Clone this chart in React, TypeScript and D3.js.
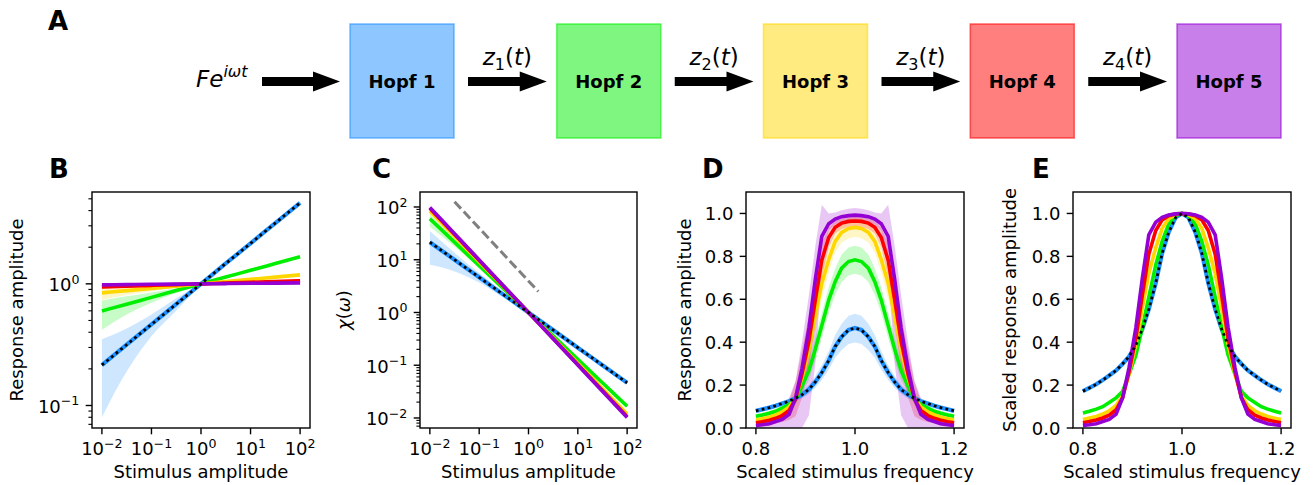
import React, { useEffect, useRef } from "react";
import * as d3 from "d3";

const W = 1315;
const H = 485;
const FONT = "DejaVu Sans, sans-serif";

// ---- panel A: chain of Hopf oscillators
const hopfNames = ["Hopf 1", "Hopf 2", "Hopf 3", "Hopf 4", "Hopf 5"];
const hopfColors = ["#1e90ff", "#00ee00", "#ffd700", "#ff0000", "#9400d3"];
const signalIdx = ["1", "2", "3", "4"];

// ---- panels B / C: response vs stimulus amplitude
const stim = [0.01, 0.0316, 0.1, 0.316, 1, 3.16, 10, 31.6, 100];
const ampBlue = [0.215, 0.316, 0.464, 0.681, 1, 1.47, 2.15, 3.16, 4.64];
const ampBlueLo = [0.08, 0.19, 0.37, 0.6, 0.985, 1.455, 2.13, 3.14, 4.61];
const ampBlueHi = [0.35, 0.43, 0.56, 0.76, 1.015, 1.485, 2.17, 3.18, 4.67];
const ampGreen = [0.599, 0.681, 0.774, 0.88, 1, 1.136, 1.292, 1.468, 1.668];
const ampGreenLo = [0.42, 0.56, 0.7, 0.84, 0.99, 1.128, 1.284, 1.46, 1.66];
const ampGreenHi = [0.73, 0.79, 0.85, 0.92, 1.01, 1.144, 1.3, 1.476, 1.676];
const ampYellow = [0.843, 0.88, 0.918, 0.958, 1, 1.044, 1.089, 1.136, 1.186];
const ampYellowLo = [0.74, 0.81, 0.87, 0.935, 0.995, 1.04, 1.085, 1.132, 1.182];
const ampYellowHi = [0.92, 0.94, 0.96, 0.98, 1.005, 1.048, 1.093, 1.14, 1.19];
const ampRed = [0.945, 0.958, 0.972, 0.986, 1, 1.014, 1.029, 1.044, 1.058];
const ampRedLo = [0.91, 0.93, 0.955, 0.978, 0.997, 1.011, 1.026, 1.041, 1.055];
const ampRedHi = [0.98, 0.985, 0.99, 0.994, 1.003, 1.017, 1.032, 1.047, 1.061];
const ampPurple = [0.981, 0.986, 0.991, 0.995, 1, 1.005, 1.01, 1.014, 1.019];
const ampPurpleLo = [0.965, 0.975, 0.984, 0.991, 0.998, 1.003, 1.008, 1.012, 1.017];
const ampPurpleHi = [0.997, 0.997, 0.998, 0.999, 1.002, 1.007, 1.012, 1.016, 1.021];
// grey guide line in C
const guideStim = [0.0316, 1.58];
const guideChi = [126, 2.5];

// ---- panels D / E: response vs scaled frequency
const freq = [0.8, 0.813, 0.827, 0.84, 0.853, 0.867, 0.88, 0.893, 0.907, 0.92, 0.933, 0.947, 0.96, 0.973, 0.987, 1.0,
  1.013, 1.027, 1.04, 1.053, 1.067, 1.08, 1.093, 1.107, 1.12, 1.133, 1.147, 1.16, 1.173, 1.187, 1.2];
const respBlue = [0.08, 0.087, 0.095, 0.104, 0.114, 0.125, 0.139, 0.155, 0.18, 0.215, 0.258, 0.315, 0.38, 0.425, 0.457, 0.466,
  0.457, 0.425, 0.38, 0.315, 0.258, 0.215, 0.18, 0.155, 0.139, 0.125, 0.114, 0.104, 0.095, 0.087, 0.08];
const respBlueLo = [0.072, 0.079, 0.086, 0.094, 0.103, 0.113, 0.125, 0.138, 0.159, 0.188, 0.224, 0.272, 0.327, 0.364, 0.391, 0.399,
  0.391, 0.364, 0.327, 0.272, 0.224, 0.188, 0.159, 0.138, 0.125, 0.113, 0.103, 0.094, 0.086, 0.079, 0.072];
const respBlueHi = [0.088, 0.095, 0.104, 0.114, 0.125, 0.137, 0.153, 0.172, 0.201, 0.242, 0.292, 0.358, 0.433, 0.486, 0.523, 0.533,
  0.523, 0.486, 0.433, 0.358, 0.292, 0.242, 0.201, 0.172, 0.153, 0.137, 0.125, 0.114, 0.104, 0.095, 0.088];
const respGreen = [0.055, 0.061, 0.069, 0.078, 0.093, 0.11, 0.133, 0.196, 0.267, 0.368, 0.478, 0.596, 0.682, 0.745, 0.776, 0.784,
  0.776, 0.745, 0.682, 0.596, 0.478, 0.368, 0.267, 0.196, 0.133, 0.11, 0.093, 0.078, 0.069, 0.061, 0.055];
const respGreenLo = [0.045, 0.051, 0.058, 0.066, 0.079, 0.094, 0.113, 0.166, 0.222, 0.313, 0.42, 0.536, 0.62, 0.681, 0.711, 0.719,
  0.711, 0.681, 0.62, 0.536, 0.42, 0.313, 0.222, 0.166, 0.113, 0.094, 0.079, 0.066, 0.058, 0.051, 0.045];
const respGreenHi = [0.065, 0.071, 0.08, 0.09, 0.107, 0.126, 0.153, 0.226, 0.312, 0.423, 0.536, 0.656, 0.744, 0.809, 0.841, 0.849,
  0.841, 0.809, 0.744, 0.656, 0.536, 0.423, 0.312, 0.226, 0.153, 0.126, 0.107, 0.09, 0.08, 0.071, 0.065];
const respYellow = [0.037, 0.043, 0.05, 0.061, 0.075, 0.098, 0.14, 0.234, 0.365, 0.524, 0.673, 0.785, 0.87, 0.912, 0.93, 0.935,
  0.93, 0.912, 0.87, 0.785, 0.673, 0.524, 0.365, 0.234, 0.14, 0.098, 0.075, 0.061, 0.05, 0.043, 0.037];
const respYellowLo = [0.025, 0.03, 0.036, 0.045, 0.056, 0.074, 0.105, 0.179, 0.295, 0.449, 0.603, 0.725, 0.818, 0.864, 0.884, 0.89,
  0.884, 0.864, 0.818, 0.725, 0.603, 0.449, 0.295, 0.179, 0.105, 0.074, 0.056, 0.045, 0.036, 0.03, 0.025];
const respYellowHi = [0.049, 0.056, 0.064, 0.077, 0.094, 0.122, 0.175, 0.289, 0.435, 0.599, 0.743, 0.845, 0.922, 0.96, 0.976, 0.98,
  0.976, 0.96, 0.922, 0.845, 0.743, 0.599, 0.435, 0.289, 0.175, 0.122, 0.094, 0.077, 0.064, 0.056, 0.049];
const respRed = [0.024, 0.029, 0.036, 0.045, 0.058, 0.082, 0.135, 0.251, 0.405, 0.598, 0.782, 0.888, 0.936, 0.955, 0.963, 0.965,
  0.963, 0.955, 0.936, 0.888, 0.782, 0.598, 0.405, 0.251, 0.135, 0.082, 0.058, 0.045, 0.036, 0.029, 0.024];
const respRedLo = [0.005, 0.009, 0.014, 0.021, 0.028, 0.037, 0.055, 0.141, 0.285, 0.488, 0.702, 0.843, 0.906, 0.928, 0.937, 0.94,
  0.937, 0.928, 0.906, 0.843, 0.702, 0.488, 0.285, 0.141, 0.055, 0.037, 0.028, 0.021, 0.014, 0.009, 0.005];
const respRedHi = [0.043, 0.049, 0.058, 0.069, 0.088, 0.127, 0.215, 0.361, 0.525, 0.708, 0.862, 0.933, 0.966, 0.982, 0.989, 0.99,
  0.989, 0.982, 0.966, 0.933, 0.862, 0.708, 0.525, 0.361, 0.215, 0.127, 0.088, 0.069, 0.058, 0.049, 0.043];
const respPurple = [0.012, 0.015, 0.02, 0.03, 0.04, 0.064, 0.139, 0.278, 0.466, 0.694, 0.893, 0.952, 0.974, 0.985, 0.99, 0.992,
  0.99, 0.985, 0.974, 0.952, 0.893, 0.694, 0.466, 0.278, 0.139, 0.064, 0.04, 0.03, 0.02, 0.015, 0.012];
const respPurpleLo = [-0.005, -0.005, -0.005, -0.005, -0.005, -0.005, -0.005, 0.0, 0.06, 0.3, 0.75, 0.92, 0.95, 0.955, 0.958, 0.96,
  0.958, 0.955, 0.95, 0.92, 0.75, 0.3, 0.06, 0.0, -0.005, -0.005, -0.005, -0.005, -0.005, -0.005, -0.005];
const respPurpleHi = [0.03, 0.035, 0.045, 0.06, 0.09, 0.14, 0.22, 0.4, 0.62, 0.85, 1.04, 1.0, 1.005, 1.015, 1.022, 1.025,
  1.022, 1.015, 1.005, 1.0, 1.04, 0.85, 0.62, 0.4, 0.22, 0.14, 0.09, 0.06, 0.045, 0.035, 0.03];

const Y0 = 192;
const Y1 = 428;

export default function App() {
  const svgRef = useRef<SVGSVGElement>(null);

  useEffect(() => {
    const svg = d3.select(svgRef.current);
    svg.selectAll("*").remove();
    svg.attr("font-family", FONT);

    const ampSeries = [
      [ampBlue, ampBlueLo, ampBlueHi],
      [ampGreen, ampGreenLo, ampGreenHi],
      [ampYellow, ampYellowLo, ampYellowHi],
      [ampRed, ampRedLo, ampRedHi],
      [ampPurple, ampPurpleLo, ampPurpleHi],
    ];
    const respSeries = [
      [respBlue, respBlueLo, respBlueHi],
      [respGreen, respGreenLo, respGreenHi],
      [respYellow, respYellowLo, respYellowHi],
      [respRed, respRedLo, respRedHi],
      [respPurple, respPurpleLo, respPurpleHi],
    ];

    // ---------- panel A
    const a = svg.append("g");
    a.append("text").attr("x", 48).attr("y", 30).attr("font-size", 26).attr("font-weight", "bold").text("A");

    const boxLeft = d3.scalePoint<string>().domain(hopfNames).range([350, 1177]);
    const boxW = 104;
    const arrowY = 81.5;

    const arrow = (x0: number, x1: number) => {
      a.append("rect").attr("x", x0).attr("y", arrowY - 4.5).attr("width", x1 - x0 - 25).attr("height", 9).attr("fill", "#000");
      a.append("path")
        .attr("d", `M${x1 - 27},${arrowY - 10}L${x1},${arrowY}L${x1 - 27},${arrowY + 10}Z`)
        .attr("fill", "#000");
    };

    hopfNames.forEach((name, i) => {
      const x = boxLeft(name)!;
      a.append("rect")
        .attr("x", x).attr("y", 24).attr("width", boxW).attr("height", 114)
        .attr("fill", hopfColors[i]).attr("fill-opacity", 0.5)
        .attr("stroke", hopfColors[i]).attr("stroke-opacity", 0.55).attr("stroke-width", 1.6);
      a.append("text")
        .attr("x", x + boxW / 2).attr("y", 87.5).attr("text-anchor", "middle")
        .attr("font-size", 18).attr("font-weight", "bold").text(name);
    });

    const fe = a.append("text").attr("x", 196).attr("y", 87).attr("font-size", 23).attr("font-style", "italic");
    fe.append("tspan").text("Fe");
    fe.append("tspan").attr("font-size", 16).attr("dy", -10).text("iωt");
    arrow(262, 340);

    signalIdx.forEach((s, i) => {
      const x0 = boxLeft(hopfNames[i])! + boxW + 14;
      const x1 = boxLeft(hopfNames[i + 1])! - 10;
      arrow(x0, x1);
      const t = a.append("text").attr("x", (x0 + x1) / 2).attr("y", 65).attr("text-anchor", "middle").attr("font-size", 23);
      t.append("tspan").attr("font-style", "italic").text("z");
      t.append("tspan").attr("font-size", 16).attr("dy", 5).text(s);
      t.append("tspan").attr("dy", -5).text("(");
      t.append("tspan").attr("font-style", "italic").text("t");
      t.append("tspan").text(")");
    });

    // ---------- helpers for the plot panels
    const supLabel = (t: any, e: number) => {
      t.append("tspan").text("10");
      t.append("tspan").attr("font-size", 12.6).attr("dy", -7.5).text(e < 0 ? "\u2212" + -e : String(e));
    };

    const panel = (letter: string, lx: number, x: any, clipId: string) => {
      const [x0, x1] = x.range();
      const g = svg.append("g");
      g.append("text").attr("x", lx).attr("y", 178).attr("font-size", 26).attr("font-weight", "bold").text(letter);
      svg.append("clipPath").attr("id", clipId)
        .append("rect").attr("x", x0).attr("y", Y0).attr("width", x1 - x0).attr("height", Y1 - Y0);
      const plot = g.append("g").attr("clip-path", `url(#${clipId})`);
      return { g, plot, x0, x1 };
    };

    const frame = (g: any, x0: number, x1: number) => {
      g.append("rect").attr("x", x0).attr("y", Y0).attr("width", x1 - x0).attr("height", Y1 - Y0)
        .attr("fill", "none").attr("stroke", "#000").attr("stroke-width", 1.4);
    };

    const xTicks = (g: any, x: any, vals: number[], log: boolean) => {
      vals.forEach((v) => {
        const px = x(v);
        g.append("line").attr("x1", px).attr("x2", px).attr("y1", Y1).attr("y2", Y1 + 6.3)
          .attr("stroke", "#000").attr("stroke-width", 1.4);
        const t = g.append("text").attr("x", px).attr("y", 455).attr("text-anchor", "middle").attr("font-size", 18);
        if (log) supLabel(t, Math.round(Math.log10(v)));
        else t.text(d3.format(".1f")(v));
      });
    };

    const yTicks = (g: any, y: any, x0: number, vals: number[], log: boolean) => {
      vals.forEach((v) => {
        const py = y(v);
        g.append("line").attr("x1", x0 - 6.3).attr("x2", x0).attr("y1", py).attr("y2", py)
          .attr("stroke", "#000").attr("stroke-width", 1.4);
        const t = g.append("text").attr("x", x0 - 12.6).attr("y", py + (log ? 7.5 : 6.5))
          .attr("text-anchor", "end").attr("font-size", 18);
        if (log) supLabel(t, Math.round(Math.log10(v)));
        else t.text(d3.format(".1f")(v));
      });
    };

    const yMinor = (g: any, y: any, x0: number) => {
      const [lo, hi] = y.domain();
      for (let d = -3; d <= 3; d++) {
        for (let m = 2; m <= 9; m++) {
          const v = m * Math.pow(10, d);
          if (v < lo || v > hi) continue;
          g.append("line").attr("x1", x0 - 3.6).attr("x2", x0).attr("y1", y(v)).attr("y2", y(v))
            .attr("stroke", "#000").attr("stroke-width", 1.1);
        }
      }
    };

    const axisTitles = (g: any, x0: number, x1: number, xt: string, yx: number, yt: any) => {
      g.append("text").attr("x", (x0 + x1) / 2).attr("y", 478).attr("text-anchor", "middle").attr("font-size", 18).text(xt);
      const t = g.append("text")
        .attr("transform", `translate(${yx},${(Y0 + Y1) / 2}) rotate(-90)`)
        .attr("text-anchor", "middle").attr("font-size", 18);
      yt(t);
    };

    const drawSet = (plot: any, xs: number[], x: any, y: any, sets: number[][][], smooth: boolean) => {
      const curve = smooth ? d3.curveMonotoneX : d3.curveLinear;
      const area = d3.area<number>()
        .x((_, i) => x(xs[i]))
        .curve(curve);
      const line = d3.line<number>().x((_, i) => x(xs[i])).y((d) => y(d)).curve(curve);
      sets.forEach(([, lo, hi], i) => {
        plot.append("path")
          .attr("d", area.y0((_, k) => y(lo[k])).y1((_, k) => y(hi[k]))(lo))
          .attr("fill", hopfColors[i]).attr("fill-opacity", 0.22);
      });
      sets.forEach(([m], i) => {
        plot.append("path").attr("d", line(m)).attr("fill", "none")
          .attr("stroke", hopfColors[i]).attr("stroke-width", i === 0 ? 4.2 : 3.6);
      });
      plot.append("path").attr("d", line(sets[0][0])).attr("fill", "none")
        .attr("stroke", "#000").attr("stroke-width", 2.7).attr("stroke-dasharray", "2.7 3.3");
    };

    const logMajors = [0.01, 0.1, 1, 10, 100];

    // ---------- panel B
    {
      const x = d3.scaleLog().domain([Math.pow(10, -2.2), Math.pow(10, 2.2)]).range([92, 310]);
      const y = d3.scaleLog().domain([Math.pow(10, -1.185), Math.pow(10, 0.755)]).range([Y1, Y0]);
      const { g, plot, x0, x1 } = panel("B", 49, x, "clipB");
      drawSet(plot, stim, x, y, ampSeries, true);
      frame(g, x0, x1);
      xTicks(g, x, logMajors, true);
      yMinor(g, y, x0);
      yTicks(g, y, x0, [0.1, 1], true);
      axisTitles(g, x0, x1, "Stimulus amplitude", 23, (t: any) => t.text("Response amplitude"));
    }

    // ---------- panel C (response divided by stimulus)
    {
      const x = d3.scaleLog().domain([Math.pow(10, -2.2), Math.pow(10, 2.2)]).range([420, 637]);
      const y = d3.scaleLog().domain([Math.pow(10, -2.19), Math.pow(10, 2.284)]).range([Y1, Y0]);
      const { g, plot, x0, x1 } = panel("C", 372, x, "clipC");
      const chiSeries = ampSeries.map((s) => s.map((arr) => arr.map((v, i) => v / stim[i])));
      drawSet(plot, stim, x, y, chiSeries, true);
      plot.append("path")
        .attr("d", d3.line<number>().x((_, i) => x(guideStim[i])).y((d) => y(d))(guideChi))
        .attr("fill", "none").attr("stroke", "#808080").attr("stroke-width", 3).attr("stroke-dasharray", "9.5 4");
      frame(g, x0, x1);
      xTicks(g, x, logMajors, true);
      yMinor(g, y, x0);
      yTicks(g, y, x0, logMajors, true);
      axisTitles(g, x0, x1, "Stimulus amplitude", 350, (t: any) => {
        t.append("tspan").attr("font-style", "italic").text("χ");
        t.append("tspan").text("(");
        t.append("tspan").attr("font-style", "italic").text("ω");
        t.append("tspan").text(")");
      });
    }

    const linTicksX = [0.8, 1.0, 1.2];
    const linTicksY = [0, 0.2, 0.4, 0.6, 0.8, 1.0];

    // ---------- panel D
    {
      const x = d3.scaleLinear().domain([0.78, 1.22]).range([746, 964]);
      const y = d3.scaleLinear().domain([0, 1.1]).range([Y1, Y0]);
      const { g, plot, x0, x1 } = panel("D", 702, x, "clipD");
      drawSet(plot, freq, x, y, respSeries, false);
      frame(g, x0, x1);
      xTicks(g, x, linTicksX, false);
      yTicks(g, y, x0, linTicksY, false);
      axisTitles(g, x0, x1, "Scaled stimulus frequency", 691, (t: any) => t.text("Response amplitude"));
    }

    // ---------- panel E (curves of D scaled to their peak)
    {
      const x = d3.scaleLinear().domain([0.78, 1.22]).range([1073, 1291]);
      const y = d3.scaleLinear().domain([0, 1.1]).range([Y1, Y0]);
      const { g, plot, x0, x1 } = panel("E", 1032, x, "clipE");
      const line = d3.line<number>().x((_, i) => x(freq[i])).y((d) => y(d));
      const scaled = respSeries.map(([m]) => {
        const peak = d3.max(m)!;
        return m.map((v) => v / peak);
      });
      scaled.forEach((m, i) => {
        plot.append("path").attr("d", line(m)).attr("fill", "none")
          .attr("stroke", hopfColors[i]).attr("stroke-width", i === 0 ? 4.2 : 3.6);
      });
      plot.append("path").attr("d", line(scaled[0])).attr("fill", "none")
        .attr("stroke", "#000").attr("stroke-width", 2.7).attr("stroke-dasharray", "2.7 3.3");
      frame(g, x0, x1);
      xTicks(g, x, linTicksX, false);
      yTicks(g, y, x0, linTicksY, false);
      axisTitles(g, x0, x1, "Scaled stimulus frequency", 1016, (t: any) => t.text("Scaled response amplitude"));
    }
  }, []);

  return (
    <svg
      ref={svgRef}
      width={W}
      height={H}
      style={{ position: "absolute", left: 0, top: 0, background: "#fff" }}
    />
  );
}
